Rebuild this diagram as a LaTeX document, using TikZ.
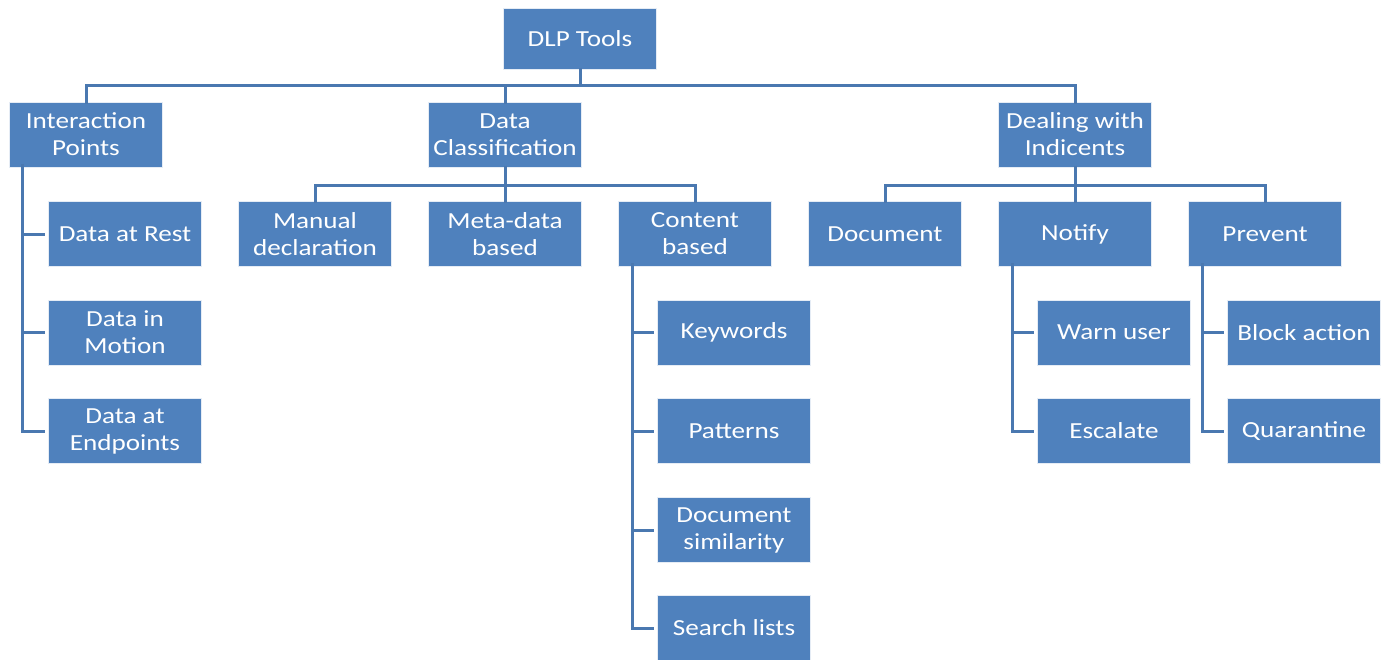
\documentclass[tikz,border=0pt]{standalone}
\usepackage{fontspec}
\setmainfont{Carlito}[FakeStretch=1.18]
\definecolor{boxblue}{HTML}{4F81BD}
\definecolor{lineblue}{HTML}{4A78B0}
\begin{document}
\begin{tikzpicture}[x=1pt,y=-1pt,
  bx/.style={fill=boxblue, draw=white!85!boxblue, line width=1pt, minimum width=153pt, minimum height=65pt,
    inner sep=0pt, align=center, text=white, font=\fontsize{23}{27}\selectfont},
  conn/.style={draw=lineblue, line width=3pt}]
\useasboundingbox (0,0) rectangle (1384,659);
% connectors first (behind boxes)
\coordinate (bus0) at (580,85);
\coordinate (bus1) at (505,185);
\coordinate (bus2) at (1075,185);
% level 0
\node[bx, minimum height=61pt] (top) at (580,38.5) {DLP Tools};
% level 1
\node[bx] (ip) at (86,134.5) {Interaction\\Points};
\node[bx] (dc) at (505,134.5) {Data\\Classification};
\node[bx] (dh) at (1075,134.5) {Dealing with\\Indicents};
% level 2
\node[bx] (rest) at (125,234) {Data at Rest};
\node[bx] (motion) at (125,332.5) {Data in\\Motion};
\node[bx] (endp) at (125,431) {Data at\\Endpoints};
\node[bx] (manual) at (315,234) {Manual\\declaration};
\node[bx] (meta) at (505,234) {Meta-data\\based};
\node[bx] (content) at (695,234) {Content\\based};
\node[bx] (doc) at (885,234) {Document};
\node[bx] (notify) at (1075,234) {Notify};
\node[bx] (prevent) at (1265,234) {Prevent};
% level 3
\node[bx] (kw) at (734,332.5) {Keywords};
\node[bx] (pat) at (734,431) {Patterns};
\node[bx] (sim) at (734,530) {Document\\similarity};
\node[bx] (search) at (734,628) {Search lists};
\node[bx] (warn) at (1114,332.5) {Warn user};
\node[bx] (esc) at (1114,431) {Escalate};
\node[bx] (block) at (1304,332.5) {Block action};
\node[bx] (quar) at (1304,431) {Quarantine};
% connectors
\draw[conn] ([yshift=2pt]top.south) -- (bus0);
\draw[conn] ([yshift=-2pt]ip.north) -- (ip.north |- bus0) -- (dh.north |- bus0) -- ([yshift=-2pt]dh.north);
\draw[conn] ([yshift=-2pt]dc.north) -- (dc.north |- bus0);
\draw[conn] ([yshift=2pt]dc.south) -- (bus1);
\draw[conn] ([yshift=-2pt]manual.north) -- (manual.north |- bus1) -- (content.north |- bus1) -- ([yshift=-2pt]content.north);
\draw[conn] ([yshift=-2pt]meta.north) -- (meta.north |- bus1);
\draw[conn] ([yshift=2pt]dh.south) -- (bus2);
\draw[conn] ([yshift=-2pt]doc.north) -- (doc.north |- bus2) -- (prevent.north |- bus2) -- ([yshift=-2pt]prevent.north);
\draw[conn] ([yshift=-2pt]notify.north) -- (notify.north |- bus2);
% spines
\coordinate (s1) at ([xshift=-64pt,yshift=4pt]ip.south);
\draw[conn] (s1) |- ([xshift=-3pt]endp.west);
\draw[conn] (s1 |- rest.west) -- ([xshift=-3pt]rest.west);
\draw[conn] (s1 |- motion.west) -- ([xshift=-3pt]motion.west);
\coordinate (s2) at ([xshift=-63pt,yshift=4pt]content.south);
\draw[conn] (s2) |- ([xshift=-3pt]search.west);
\draw[conn] (s2 |- kw.west) -- ([xshift=-3pt]kw.west);
\draw[conn] (s2 |- pat.west) -- ([xshift=-3pt]pat.west);
\draw[conn] (s2 |- sim.west) -- ([xshift=-3pt]sim.west);
\coordinate (s3) at ([xshift=-63pt,yshift=4pt]notify.south);
\draw[conn] (s3) |- ([xshift=-3pt]esc.west);
\draw[conn] (s3 |- warn.west) -- ([xshift=-3pt]warn.west);
\coordinate (s4) at ([xshift=-63pt,yshift=4pt]prevent.south);
\draw[conn] (s4) |- ([xshift=-3pt]quar.west);
\draw[conn] (s4 |- block.west) -- ([xshift=-3pt]block.west);
\end{tikzpicture}
\end{document}
